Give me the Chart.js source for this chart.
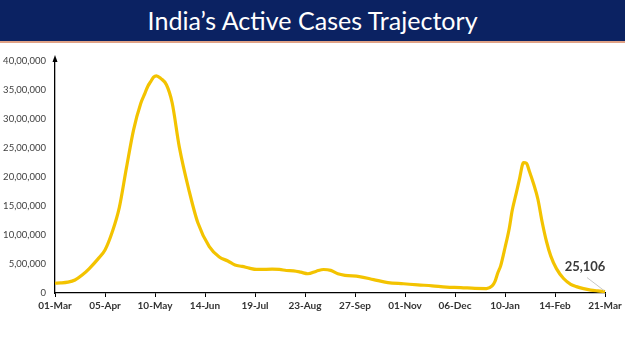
<!DOCTYPE html>
<html>
<head>
<meta charset="utf-8">
<script src="https://cdn.jsdelivr.net/npm/chart.js@4.4.1/dist/chart.umd.min.js"></script>
<style>
  html, body { margin: 0; padding: 0; background: #fff; }
  #wrap { position: relative; width: 625px; height: 351px; overflow: hidden; }
  #titlebar { position: absolute; left: 0; top: 0; width: 625px; height: 41px; background: #0b2262;
              border-bottom: 2px solid #e0a286; text-align: center; }
  #title { display: inline-block; color: #fff; font-family: Lato, "Open Sans", sans-serif; font-size: 25px;
           line-height: 41px; white-space: nowrap; transform-origin: 50% 50%; }
  #c { position: absolute; left: 0; top: 0; }
</style>
</head>
<body>
<div id="wrap">
  <canvas id="c" width="625" height="351"></canvas>
  <div id="titlebar"><span id="title">India’s Active Cases Trajectory</span></div>
</div>
<script>
// ---- Data ----
const startDate = '2021-03-01';
const dates = [
  '2021-03-01','2021-03-05','2021-03-10','2021-03-15','2021-03-20','2021-03-25','2021-03-31',
  '2021-04-05','2021-04-10','2021-04-15','2021-04-20','2021-04-25','2021-04-30','2021-05-03',
  '2021-05-05','2021-05-07','2021-05-09','2021-05-11','2021-05-14','2021-05-18','2021-05-22',
  '2021-05-27','2021-06-03','2021-06-09','2021-06-17','2021-06-24',
  '2021-06-30','2021-07-05','2021-07-10','2021-07-15','2021-07-20','2021-07-25',
  '2021-07-31','2021-08-05','2021-08-10','2021-08-15','2021-08-20','2021-08-25','2021-08-31',
  '2021-09-05','2021-09-10','2021-09-15','2021-09-20','2021-09-30','2021-10-10','2021-10-20',
  '2021-10-31','2021-11-10','2021-11-20','2021-11-30','2021-12-10','2021-12-20','2021-12-28',
  '2022-01-01','2022-01-03','2022-01-05','2022-01-07','2022-01-10','2022-01-13','2022-01-15',
  '2022-01-18','2022-01-20','2022-01-23','2022-01-25','2022-01-27','2022-01-30','2022-02-02',
  '2022-02-05','2022-02-08','2022-02-11','2022-02-15','2022-02-20','2022-02-25','2022-03-01',
  '2022-03-06','2022-03-11','2022-03-16','2022-03-21'
];
const activeCases = [
  168000,173000,187000,224000,309000,422000,584000,
  741000,1046000,1471000,2157000,2813000,3268000,3447000,
  3566000,3645000,3723000,3745000,3700000,3590000,3280000,
  2520000,1750000,1210000,800000,620000,
  552000,482000,459000,429000,406000,408000,
  410000,407000,388000,381000,359000,332000,376000,
  405000,390000,332000,305000,283000,231000,179000,
  159000,140000,124000,101000,94000,79000,77000,
  122000,200000,350000,472000,780000,1117000,1417000,
  1736000,1950000,2249000,2236000,2105000,1884000,1621000,
  1225000,892000,640000,420000,250000,150000,110000,
  75000,50000,36000,25106
];
const xTickLabels = ['01-Mar','05-Apr','10-May','14-Jun','19-Jul','23-Aug','27-Sep','01-Nov','06-Dec','10-Jan','14-Feb','21-Mar'];
const yTickLabels = ['0','5,00,000','10,00,000','15,00,000','20,00,000','25,00,000','30,00,000','35,00,000','40,00,000'];
const lastLabel = '25,106';

// ---- Build points ----
const DAY = 86400000;
const t0 = Date.parse(startDate + 'T00:00:00Z');
const points = dates.map((d, i) => ({ x: Math.round((Date.parse(d + 'T00:00:00Z') - t0) / DAY), y: activeCases[i] }));

// Title width fit
const title = document.getElementById('title');
const targetW = 330;
const w = title.getBoundingClientRect().width;
if (w > 0) title.style.transform = 'scaleX(' + (targetW / w) + ')';

const axisArrow = {
  id: 'axisArrow',
  afterDraw(chart) {
    const { ctx, chartArea } = chart;
    const x = chart.scales.y.right;
    const top = chartArea.top;
    ctx.save();
    ctx.fillStyle = '#000';
    ctx.beginPath();
    ctx.moveTo(x, top - 6);
    ctx.lineTo(x - 2.5, top + 1);
    ctx.lineTo(x + 2.5, top + 1);
    ctx.closePath();
    ctx.fill();
    ctx.restore();
  }
};

const endLabel = {
  id: 'endLabel',
  afterDatasetsDraw(chart) {
    const { ctx } = chart;
    const meta = chart.getDatasetMeta(0);
    const p = meta.data[meta.data.length - 1];
    ctx.save();
    ctx.strokeStyle = '#c8c8c8';
    ctx.lineWidth = 1;
    ctx.beginPath();
    ctx.moveTo(p.x - 18, p.y - 14);
    ctx.lineTo(p.x - 1, p.y - 1);
    ctx.stroke();
    ctx.fillStyle = '#3a3a3a';
    ctx.font = 'bold 13px Lato, "Open Sans", sans-serif';
    ctx.textAlign = 'center';
    ctx.textBaseline = 'middle';
    ctx.fillText(lastLabel, p.x - 20, p.y - 25);
    ctx.restore();
  }
};

new Chart(document.getElementById('c'), {
  type: 'line',
  data: {
    datasets: [{
      data: points,
      borderColor: '#f3c300',
      borderWidth: 3.2,
      pointRadius: 0,
      fill: false,
      tension: 0.4,
      cubicInterpolationMode: 'monotone',
      clip: false
    }]
  },
  options: {
    responsive: false,
    animation: false,
    events: [],
    layout: { padding: { top: 61, right: 20, left: 0, bottom: 0 } },
    plugins: { legend: { display: false }, tooltip: { enabled: false }, title: { display: false } },
    scales: {
      x: {
        type: 'linear',
        min: 0, max: 385,
        afterFit(s) { s.height = 58; },
        afterBuildTicks(s) { s.ticks = xTickLabels.map((l, i) => ({ value: i * 35 })); },
        ticks: {
          autoSkip: false, maxRotation: 0, padding: 3,
          color: '#333',
          font: { family: 'Lato, "Open Sans", sans-serif', size: 10, weight: 'bold' },
          callback: (v, i) => xTickLabels[i]
        },
        grid: { display: true, drawOnChartArea: false, drawTicks: true, tickLength: 4, color: '#000', lineWidth: 1 },
        border: { display: true, color: '#000', width: 1.3 }
      },
      y: {
        type: 'linear',
        min: 0, max: 4000000,
        afterFit(s) { s.width = 55; },
        afterBuildTicks(s) { s.ticks = yTickLabels.map((l, i) => ({ value: i * 500000 })); },
        ticks: {
          padding: 9,
          color: '#404040',
          font: { family: 'Lato, "Open Sans", sans-serif', size: 9.5 },
          callback: (v, i) => yTickLabels[i]
        },
        grid: { display: false, drawTicks: false },
        border: { display: true, color: '#000', width: 1.3 }
      }
    }
  },
  plugins: [axisArrow, endLabel]
});
</script>
</body>
</html>
